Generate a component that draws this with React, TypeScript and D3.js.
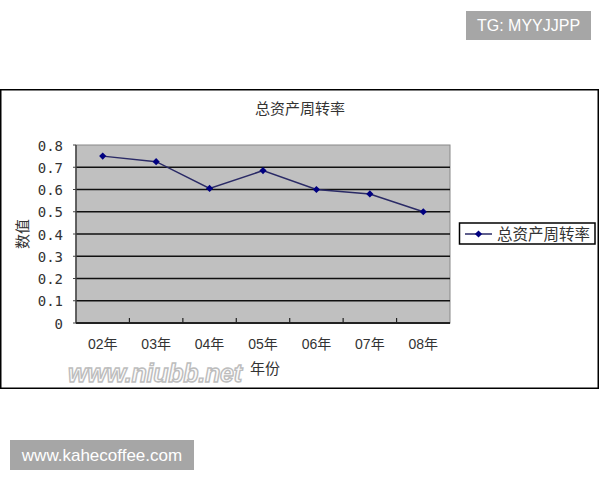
import * as d3 from "d3";

// 数据
const years = ["02年", "03年", "04年", "05年", "06年", "07年", "08年"];
const turnover = [0.75, 0.725, 0.605, 0.685, 0.6, 0.58, 0.5];
const yTicks = [0, 0.1, 0.2, 0.3, 0.4, 0.5, 0.6, 0.7, 0.8];
const seriesName = "总资产周转率";

const W = 600;
const H = 480;
const plot = { left: 76, right: 450, top: 145, bottom: 323 };
const cjk = "'Noto Sans CJK SC', sans-serif";
const navy = "#000080";

const App = () => {
	const x = d3
		.scaleBand<string>()
		.domain(years)
		.range([plot.left, plot.right])
		.padding(0);
	const y = d3.scaleLinear().domain([0, 0.8]).range([plot.bottom, plot.top]);
	const cx = (d: string) => (x(d) as number) + x.bandwidth() / 2;

	const line = d3
		.line<number>()
		.x((_d, i) => cx(years[i]))
		.y((d) => y(d));
	const diamond = d3.symbol(d3.symbolSquare, 26)() as string;
	const fmt = d3.format(".1f");

	return (
		<svg
			width={W}
			height={H}
			style={{ position: "absolute", left: 0, top: 0, background: "#fff" }}
		>
			{/* watermark boxes */}
			<rect x={466} y={11} width={125} height={29} fill="#a6a6a6" />
			<text
				x={528.5}
				y={31}
				textAnchor="middle"
				fill="#fff"
				fontSize={16}
				fontFamily="'Liberation Sans', Arial, sans-serif"
			>
				TG: MYYJJPP
			</text>
			<rect x={10} y={440} width={184} height={30} fill="#a6a6a6" />
			<text
				x={102}
				y={461}
				textAnchor="middle"
				fill="#fff"
				fontSize={17}
				fontFamily="'Liberation Sans', Arial, sans-serif"
			>
				www.kahecoffee.com
			</text>

			{/* chart frame */}
			<rect x={0.75} y={89.75} width={597.5} height={298.5} fill="#fff" stroke="#000" strokeWidth={1.5} />

			<text x={300} y={114} textAnchor="middle" fontSize={15} fill="#333" fontFamily={cjk}>
				{seriesName}
			</text>

			{/* plot area */}
			<rect
				x={plot.left}
				y={plot.top}
				width={plot.right - plot.left}
				height={plot.bottom - plot.top}
				fill="#c0c0c0"
				stroke="#888"
				strokeWidth={1}
			/>
			{yTicks.slice(1, -1).map((t) => (
				<line
					key={t}
					x1={plot.left}
					x2={plot.right}
					y1={y(t)}
					y2={y(t)}
					stroke="#111"
					strokeWidth={1.6}
				/>
			))}
			{/* axes */}
			<line x1={plot.left} x2={plot.left} y1={plot.top} y2={plot.bottom} stroke="#444" strokeWidth={1.5} />
			<line x1={plot.left} x2={plot.right} y1={plot.bottom} y2={plot.bottom} stroke="#222" strokeWidth={1.8} />
			{years.slice(1).map((yr) => (
				<line
					key={yr}
					x1={x(yr) as number}
					x2={x(yr) as number}
					y1={plot.bottom}
					y2={plot.bottom - 5}
					stroke="#222"
					strokeWidth={1.2}
				/>
			))}
			{yTicks.map((t) => (
				<g key={t}>
					<line x1={plot.left - 3} x2={plot.left} y1={y(t)} y2={y(t)} stroke="#444" strokeWidth={1} />
					<text
						x={63}
						y={y(t) + 5.5}
						textAnchor="end"
						fontSize={14}
						fill="#333"
						fontFamily="'DejaVu Sans Mono', monospace"
					>
						{t === 0 ? "0" : fmt(t)}
					</text>
				</g>
			))}
			{years.map((yr) => (
				<text
					key={yr}
					x={cx(yr)}
					y={349}
					textAnchor="middle"
					fontSize={14}
					fill="#333"
					fontFamily={`'Liberation Sans', ${cjk}`}
				>
					{yr}
				</text>
			))}

			{/* site watermark */}
			<text
				x={68}
				y={382}
				fontSize={25}
				fontWeight="bold"
				fontStyle="italic"
				fill="#fbfbfb"
				stroke="#bdbdbd"
				strokeWidth={1.4}
				textLength={174}
				fontFamily="'Liberation Sans', Arial, sans-serif"
			>
				www.niubb.net
			</text>

			{/* axis titles */}
			<text x={265} y={374} textAnchor="middle" fontSize={15} fill="#333" fontFamily={cjk}>
				年份
			</text>
			<text
				transform={`translate(28, ${(plot.top + plot.bottom) / 2}) rotate(-90)`}
				textAnchor="middle"
				fontSize={15}
				fill="#333"
				fontFamily={cjk}
			>
				数值
			</text>

			{/* series */}
			<path d={line(turnover) as string} fill="none" stroke="#2a2a66" strokeWidth={1.5} />
			{turnover.map((v, i) => (
				<path
					key={i}
					d={diamond}
					transform={`translate(${cx(years[i])},${y(v)}) rotate(45)`}
					fill={navy}
				/>
			))}

			{/* legend */}
			<rect x={459.5} y={223} width={135.5} height={21} fill="#fff" stroke="#000" strokeWidth={1.5} />
			<line x1={465} x2={492} y1={234} y2={234} stroke="#2a2a66" strokeWidth={1.5} />
			<path d={diamond} transform="translate(478.5,234) rotate(45)" fill={navy} />
			<text x={497} y={240} fontSize={15.5} fill="#333" fontFamily={cjk}>
				{seriesName}
			</text>
		</svg>
	);
};

export default App;
